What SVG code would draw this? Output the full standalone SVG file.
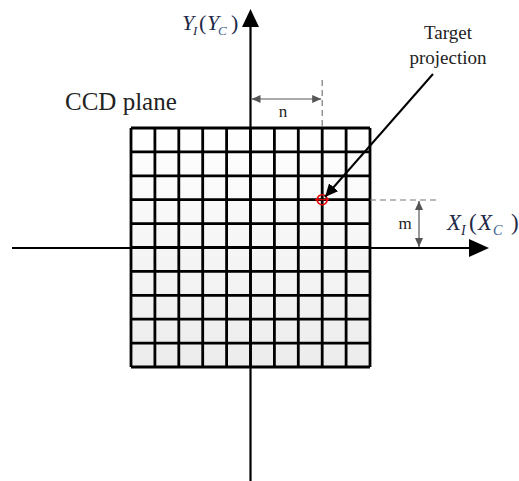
<svg xmlns="http://www.w3.org/2000/svg" width="519" height="481" viewBox="0 0 519 481">
<style>
.lbl{font-family:"Liberation Serif","DejaVu Serif","Times New Roman",serif;fill:#222}
.math{font-family:"Liberation Serif","DejaVu Serif","Times New Roman",serif;fill:#1e2a48}
.grid{stroke:#000;stroke-width:2.8;fill:none}
.axis{stroke:#000;stroke-width:2.2;fill:none}
.dim{stroke:#555;stroke-width:1.2;fill:none}
.dash{stroke:#777;stroke-width:1.2;stroke-dasharray:6,4;fill:none}
</style>
<defs>
<linearGradient id="gfill" x1="0" y1="0" x2="0" y2="1">
<stop offset="0" stop-color="#ffffff"/>
<stop offset="1" stop-color="#ececec"/>
</linearGradient>
<marker id="dimA" markerWidth="10" markerHeight="8" refX="9" refY="4" orient="auto-start-reverse" markerUnits="userSpaceOnUse">
<path d="M0,0 L9,4 L0,8 Z" fill="#555"/>
</marker>
<marker id="blkA" markerWidth="14" markerHeight="12" refX="13" refY="6" orient="auto" markerUnits="userSpaceOnUse">
<path d="M0,0 L13,6 L0,12 Z" fill="#000"/>
</marker>
</defs>

<g id="ccd-plane">
<rect x="131" y="128" width="239" height="239" fill="url(#gfill)"/>
<path class="grid" d="M131,128V367M154.9,128V367M178.8,128V367M202.7,128V367M226.6,128V367M250.5,128V367M274.4,128V367M298.3,128V367M322.2,128V367M346.1,128V367M370,128V367
M131,128H370M131,151.9H370M131,175.8H370M131,199.7H370M131,223.6H370M131,247.5H370M131,271.4H370M131,295.3H370M131,319.2H370M131,343.1H370M131,367H370"/>
<text class="lbl" x="65" y="110" font-size="25">CCD plane</text>
</g>

<g id="axes">
<line class="axis" x1="250.5" y1="481" x2="250.5" y2="25"/>
<path d="M250.5,9 L259,27 L242,27 Z" fill="#000"/>
<line class="axis" x1="12" y1="248" x2="470" y2="248"/>
<path d="M489,248 L469,239 L469,257 Z" fill="#000"/>
</g>

<g id="y-label">
<text class="math" y="30" font-size="22"><tspan x="182" font-style="italic">Y</tspan><tspan x="193" dy="5" font-size="13" font-style="italic">I</tspan><tspan x="199" dy="-5">(</tspan><tspan x="207" font-style="italic">Y</tspan><tspan x="218" dy="5" font-size="13" font-style="italic" fill="#3a5a8c">C</tspan><tspan x="231" dy="-5">)</tspan></text>
</g>

<g id="x-label">
<text class="math" y="230" font-size="23"><tspan x="447" font-style="italic">X</tspan><tspan x="461" dy="5" font-size="14" font-style="italic">I</tspan><tspan x="469" dy="-5">(</tspan><tspan x="478" font-style="italic">X</tspan><tspan x="493" dy="5" font-size="14" font-style="italic" fill="#3a5a8c">C</tspan><tspan x="511" dy="-5">)</tspan></text>
</g>

<g id="target">
<circle cx="322.2" cy="199.7" r="5" fill="none" stroke="#e00" stroke-width="1.6"/>
<line x1="315" y1="199.7" x2="329" y2="199.7" stroke="#e00" stroke-width="1.2"/>
<text class="lbl" x="448" y="39" font-size="19" text-anchor="middle">Target</text>
<text class="lbl" x="448" y="64" font-size="19" text-anchor="middle">projection</text>
</g>

<g id="connectors">
<line x1="433" y1="74" x2="325" y2="197" stroke="#000" stroke-width="2" marker-end="url(#blkA)"/>
<line class="dash" x1="322.2" y1="80" x2="322.2" y2="128"/>
<line class="dim" x1="251.5" y1="99" x2="321.2" y2="99" marker-start="url(#dimA)" marker-end="url(#dimA)"/>
<line class="dash" x1="370" y1="200" x2="440" y2="200"/>
<line class="dim" x1="419" y1="201" x2="419" y2="247" marker-start="url(#dimA)" marker-end="url(#dimA)"/>
</g>

<g id="dim-labels">
<text class="lbl" x="283" y="117" font-size="17" text-anchor="middle">n</text>
<text class="lbl" x="405" y="229" font-size="17" text-anchor="middle">m</text>
</g>
</svg>
